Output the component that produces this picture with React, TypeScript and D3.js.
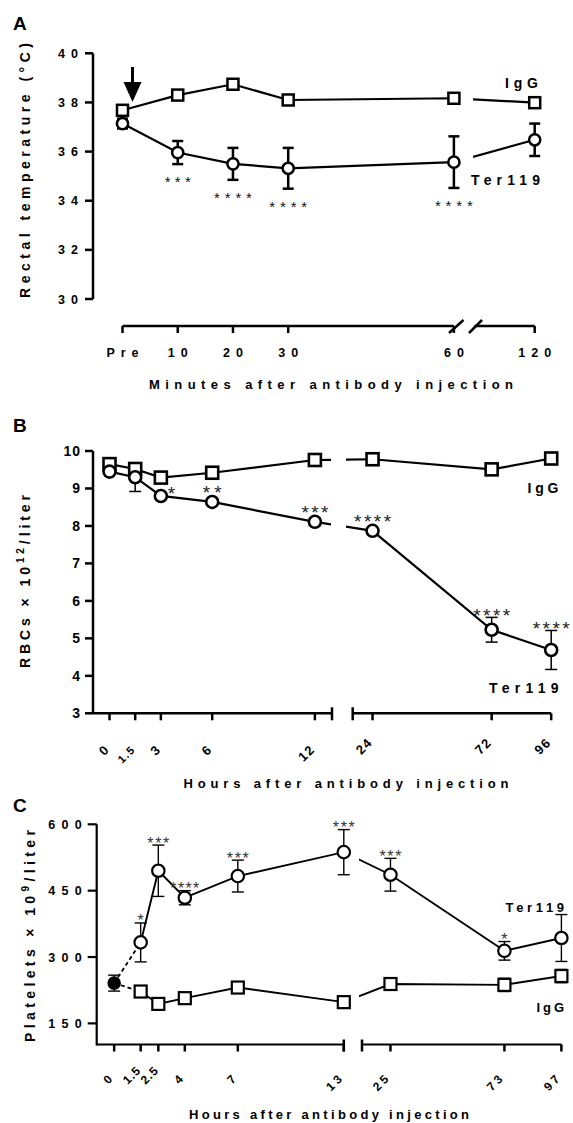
import { type RefObject, useEffect, useRef } from "react";
import * as d3 from "d3";

// ---- Panel A: rectal temperature ----
const aMinutes = [0, 10, 20, 30, 60, 120];
const aTickLabels = ["Pre", "10", "20", "30", "60", "120"];
const aIgG = [37.68, 38.3, 38.74, 38.1, 38.17, 37.99];
const aTer119 = [37.14, 35.96, 35.5, 35.32, 35.57, 36.48];
const aTer119Err = [0.2, 0.47, 0.65, 0.83, 1.05, 0.66];
const aStars = ["", "***", "****", "****", "****", ""];
const aYTicks = [30, 32, 34, 36, 38, 40];

// ---- Panel B: RBCs ----
const bHours = [0, 1.5, 3, 6, 12, 24, 72, 96];
const bTickLabels = ["0", "1.5", "3", "6", "12", "24", "72", "96"];
const bIgG = [9.65, 9.52, 9.29, 9.42, 9.76, 9.78, 9.51, 9.8];
const bIgGErr = [0.03, 0.1, 0.03, 0.03, 0.05, 0.03, 0.05, 0.03];
const bTer119 = [9.45, 9.3, 8.8, 8.64, 8.11, 7.87, 5.23, 4.69];
const bTer119Err = [0.05, 0.38, 0.05, 0.05, 0.1, 0.05, 0.33, 0.52];
const bStars = ["", "", "*", "**", "***", "****", "****", "****"];
const bYTicks = [3, 4, 5, 6, 7, 8, 9, 10];

// ---- Panel C: platelets ----
const cBaseline = 241;
const cBaselineErr = 18;
const cHours = [1.5, 2.5, 4, 7, 13, 25, 73, 97];
const cTickHours = [0, 1.5, 2.5, 4, 7, 13, 25, 73, 97];
const cTickLabels = ["0", "1.5", "2.5", "4", "7", "13", "25", "73", "97"];
const cTer119 = [333, 495, 434, 483, 537, 486, 314, 343];
const cTer119Err = [44, 58, 16, 36, 51, 37, 21, 53];
const cIgG = [222, 194, 207, 231, 198, 239, 237, 257];
const cIgGErr = [12, 5, 12, 5, 10, 5, 15, 15];
const cStars = ["*", "***", "****", "***", "***", "***", "*", ""];
const cYTicks = [150, 300, 450, 600];

const W = 573;
const H = 1123;
const FONT = "'Liberation Sans', Arial, Helvetica, sans-serif";

type G = d3.Selection<SVGGElement, unknown, null, undefined>;

const brokenScale = (
  d1: [number, number],
  r1: [number, number],
  d2: [number, number],
  r2: [number, number]
) => {
  const s1 = d3.scaleLinear().domain(d1).range(r1);
  const s2 = d3.scaleLinear().domain(d2).range(r2);
  return (v: number) => (v <= d1[1] ? s1(v) : s2(v));
};

const text = (
  g: G,
  str: string,
  x: number,
  y: number,
  size: number,
  opts: {
    anchor?: string;
    weight?: string;
    len?: number;
    spacing?: number;
    rotate?: number;
    fill?: string;
  } = {}
) => {
  const t = g
    .append("text")
    .attr("font-family", FONT)
    .attr("font-size", size)
    .attr("font-weight", opts.weight ?? "bold")
    .attr("fill", opts.fill ?? "#000")
    .attr("text-anchor", opts.anchor ?? "start")
    .text(str);
  if (opts.rotate !== undefined) {
    t.attr("transform", `translate(${x},${y}) rotate(${opts.rotate})`);
  } else {
    t.attr("x", x).attr("y", y);
  }
  if (opts.len) t.attr("textLength", opts.len).attr("lengthAdjust", "spacing");
  if (opts.spacing) t.attr("letter-spacing", opts.spacing);
  return t;
};

const seg = (g: G, x1: number, y1: number, x2: number, y2: number, w: number) =>
  g
    .append("line")
    .attr("x1", x1)
    .attr("y1", y1)
    .attr("x2", x2)
    .attr("y2", y2)
    .attr("stroke", "#000")
    .attr("stroke-width", w);

// polyline drawn twice, clipped on each side of the axis break
const series = (
  g: G,
  pts: [number, number][],
  gap: [number, number],
  id: string,
  w: number
) => {
  const d = d3.line()(pts);
  g.append("clipPath")
    .attr("id", id + "L")
    .append("rect")
    .attr("x", 0)
    .attr("y", 0)
    .attr("width", gap[0])
    .attr("height", H);
  g.append("clipPath")
    .attr("id", id + "R")
    .append("rect")
    .attr("x", gap[1])
    .attr("y", 0)
    .attr("width", W - gap[1])
    .attr("height", H);
  ["L", "R"].forEach((s) =>
    g
      .append("path")
      .attr("d", d)
      .attr("clip-path", `url(#${id}${s})`)
      .attr("fill", "none")
      .attr("stroke", "#000")
      .attr("stroke-width", w)
  );
};

const errBar = (g: G, x: number, y1: number, y2: number, cap: number, w: number) => {
  seg(g, x, y1, x, y2, w);
  seg(g, x - cap / 2, y1, x + cap / 2, y1, w);
  seg(g, x - cap / 2, y2, x + cap / 2, y2, w);
};

const square = (g: G, x: number, y: number, s: number, w: number) =>
  g
    .append("rect")
    .attr("x", x - s / 2)
    .attr("y", y - s / 2)
    .attr("width", s)
    .attr("height", s)
    .attr("fill", "#fff")
    .attr("stroke", "#000")
    .attr("stroke-width", w);

const circle = (g: G, x: number, y: number, r: number, w: number, fill = "#fff") =>
  g
    .append("circle")
    .attr("cx", x)
    .attr("cy", y)
    .attr("r", r)
    .attr("fill", fill)
    .attr("stroke", "#000")
    .attr("stroke-width", w);

const drawPanelA = (g: G) => {
  const y = d3.scaleLinear().domain([30, 40]).range([299, 53.3]);
  const x = brokenScale([0, 60], [122.5, 453.9], [110, 120], [474.5, 534.7]);
  const axisX = 93;

  text(g, "A", 13, 30, 19);

  // y axis
  seg(g, axisX, y(30), axisX, y(40), 2.5);
  aYTicks.forEach((t) => {
    seg(g, axisX - 8, y(t), axisX, y(t), 2.5);
    text(g, String(t), 84, y(t) + 4.5, 12.5, { anchor: "end", spacing: 6 });
  });
  text(g, "Rectal temperature (°C)", 30, 170.5, 14, {
    anchor: "middle",
    rotate: -90,
    len: 255,
  });

  // x axis (offset, broken between 60 and 120)
  const xa = 326;
  seg(g, x(0), xa, x(60), xa, 2.5);
  seg(g, 474.5, xa, x(120), xa, 2.5);
  seg(g, 449, 333, 463.5, 320, 2.5);
  seg(g, 469, 333, 482, 320, 2.5);
  aMinutes.forEach((m, i) => {
    seg(g, x(m), xa, x(m), xa + 7, 2.5);
    text(g, aTickLabels[i], x(m) + 3, 357, 12.5, { anchor: "middle", spacing: 6 });
  });
  text(g, "Minutes after antibody injection", 331, 389, 13, {
    anchor: "middle",
    len: 364,
  });

  // injection arrow
  seg(g, x(0) + 10, 67, x(0) + 10, 85, 3);
  g.append("path")
    .attr("d", `M${x(0) + 1},82 L${x(0) + 19},82 L${x(0) + 10},102 Z`)
    .attr("fill", "#000");

  const gap: [number, number] = [455, 473];
  series(g, aMinutes.map((m, i) => [x(m), y(aIgG[i])]), gap, "aIgG", 2.2);
  series(g, aMinutes.map((m, i) => [x(m), y(aTer119[i])]), gap, "aTer", 2.2);

  aMinutes.forEach((m, i) => {
    errBar(g, x(m), y(aTer119[i] + aTer119Err[i]), y(aTer119[i] - aTer119Err[i]), 11, 2.5);
  });
  aMinutes.forEach((m, i) => square(g, x(m), y(aIgG[i]), 11, 2.5));
  aMinutes.forEach((m, i) => circle(g, x(m), y(aTer119[i]), 5.6, 2.5));

  aStars.forEach((s, i) => {
    if (!s) return;
    const cy = y(aTer119[i] - aTer119Err[i]) + 14.5;
    text(g, s, x(aMinutes[i]), cy + 8.5, 15, {
      anchor: "middle",
      weight: "normal",
      len: s.length === 3 ? 26 : 38,
      fill: "#111",
    });
  });

  text(g, "IgG", 538, 88, 14, { anchor: "end", len: 33 });
  text(g, "Ter119", 471, 185, 14, { len: 69 });
};

const drawPanelB = (g: G) => {
  const y = d3.scaleLinear().domain([3, 10]).range([713.3, 451]);
  const x = brokenScale([-1, 13], [92.4, 332], [16, 96], [352.7, 551.2]);
  const axisX = 93;

  text(g, "B", 13, 432, 19);

  seg(g, axisX, y(3), axisX, y(10), 2.5);
  bYTicks.forEach((t) => {
    seg(g, axisX - 8, y(t), axisX, y(t), 2.5);
    text(g, String(t), 81, y(t) + 5, 14, { anchor: "end", spacing: 1 });
  });
  const yt = text(g, "", 30, 581.5, 14, { anchor: "middle", rotate: -90, len: 173 });
  yt.append("tspan").text("RBCs × 10");
  yt.append("tspan").attr("dy", -6).attr("font-size", 10).text("12");
  yt.append("tspan").attr("dy", 6).text("/liter");

  const xa = y(3);
  seg(g, axisX, xa, x(13), xa, 2.5);
  seg(g, x(16), xa, x(96), xa, 2.5);
  seg(g, x(13), xa - 6, x(13), xa + 7, 2.5);
  seg(g, x(16), xa - 6, x(16), xa + 7, 2.5);
  bHours.forEach((h, i) => {
    seg(g, x(h), xa, x(h), xa + 7, 2.5);
    text(g, bTickLabels[i], x(h) + 1, h < 13 ? 750 : 743, bTickLabels[i] === "1.5" ? 11 : 13, {
      anchor: "end",
      rotate: -45,
      spacing: 1.5,
    });
  });
  text(g, "Hours after antibody injection", 346, 788, 13, { anchor: "middle", len: 325 });

  const gap: [number, number] = [331, 346];
  series(g, bHours.map((h, i) => [x(h), y(bIgG[i])]), gap, "bIgG", 2.2);
  series(g, bHours.map((h, i) => [x(h), y(bTer119[i])]), gap, "bTer", 2.2);

  bHours.forEach((h, i) => {
    errBar(g, x(h), y(bIgG[i] + bIgGErr[i]), y(bIgG[i] - bIgGErr[i]), 12, 1.5);
    errBar(g, x(h), y(bTer119[i] + bTer119Err[i]), y(bTer119[i] - bTer119Err[i]), 12, 1.5);
  });
  bHours.forEach((h, i) => square(g, x(h), y(bIgG[i]), 12, 2.6));
  bHours.forEach((h, i) => circle(g, x(h), y(bTer119[i]), 6, 2.6));

  const starW: Record<number, number> = { 1: 7, 2: 19, 3: 27, 4: 37 };
  bStars.forEach((s, i) => {
    if (!s) return;
    const px = x(bHours[i]);
    const py = y(bTer119[i]);
    // the single star sits beside its marker, the rest above
    const cx = s.length === 1 ? px + 10.5 : px;
    const cy = s.length === 1 ? py - 6 : Math.min(py - 13, y(bTer119[i] + bTer119Err[i]) - 6);
    text(g, s, cx, cy + 10.5, 19, {
      anchor: "middle",
      weight: "normal",
      len: starW[s.length],
      fill: "#222",
    });
  });

  text(g, "IgG", 558.5, 493, 14, { anchor: "end", len: 31 });
  text(g, "Ter119", 489, 692.7, 14, { len: 69.5 });
};

const drawPanelC = (g: G) => {
  const y = d3.scaleLinear().domain([100, 600]).range([1045.5, 824.3]);
  const x = brokenScale([-1, 13], [96.5, 343.8], [13.01, 97], [362, 561.4]);
  const axisX = 96.7;

  text(g, "C", 13, 812, 19);

  seg(g, axisX, y(100), axisX, y(600), 2.2);
  cYTicks.forEach((t) => {
    seg(g, axisX - 9, y(t), axisX, y(t), 2.2);
    text(g, String(t), 88, y(t) + 4.5, 12.5, { anchor: "end", spacing: 6.3 });
  });
  const yt = text(g, "", 35, 936, 14, { anchor: "middle", rotate: -90, len: 212 });
  yt.append("tspan").text("Platelets × 10");
  yt.append("tspan").attr("dy", -6).attr("font-size", 10).text("9");
  yt.append("tspan").attr("dy", 6).text("/liter");

  const xa = 1044.5;
  seg(g, axisX, xa, x(13), xa, 2.2);
  seg(g, x(13.01), xa, x(97), xa, 2.2);
  seg(g, x(13), xa - 5, x(13), xa + 7, 2.5);
  seg(g, x(13.01), xa - 5, x(13.01), xa + 7, 2.5);
  cTickHours.forEach((h, i) => {
    seg(g, x(h), xa, x(h), xa + 7, 2.5);
    const small = cTickLabels[i].includes(".");
    text(g, cTickLabels[i], x(h) + 1, small ? 1071 : 1078, 12, {
      anchor: "end",
      rotate: -45,
      spacing: small ? 1 : 3,
    });
  });
  text(g, "Hours after antibody injection", 329, 1119, 13, { anchor: "middle", len: 280 });

  const base: [number, number] = [x(0), y(cBaseline)];
  const gap: [number, number] = [345, 359];
  const terPts = cHours.map((h, i) => [x(h), y(cTer119[i])] as [number, number]);
  const iggPts = cHours.map((h, i) => [x(h), y(cIgG[i])] as [number, number]);
  [terPts[0], iggPts[0]].forEach((p) =>
    g
      .append("path")
      .attr("d", d3.line()([base, p]))
      .attr("fill", "none")
      .attr("stroke", "#000")
      .attr("stroke-width", 1.8)
      .attr("stroke-dasharray", "4,3")
  );
  series(g, terPts, gap, "cTer", 1.9);
  series(g, iggPts, gap, "cIgG", 1.9);

  errBar(g, base[0], y(cBaseline + cBaselineErr), y(cBaseline - cBaselineErr), 12, 1.4);
  cHours.forEach((h, i) => {
    errBar(g, x(h), y(cTer119[i] + cTer119Err[i]), y(cTer119[i] - cTer119Err[i]), 12, 1.4);
    errBar(g, x(h), y(cIgG[i] + cIgGErr[i]), y(cIgG[i] - cIgGErr[i]), 12, 1.4);
  });
  circle(g, base[0], base[1], 6, 1.5, "#000");
  cHours.forEach((h, i) => square(g, x(h), y(cIgG[i]), 12, 2.2));
  cHours.forEach((h, i) => circle(g, x(h), y(cTer119[i]), 6.2, 2.2));

  const starW: Record<number, number> = { 1: 6, 3: 22, 4: 29 };
  cStars.forEach((s, i) => {
    if (!s) return;
    const cy = y(cTer119[i] + cTer119Err[i]) - 5.5;
    text(g, s, x(cHours[i]), cy + 9, 16, {
      anchor: "middle",
      weight: "normal",
      len: starW[s.length],
      fill: "#333",
    });
  });

  text(g, "Ter119", 505.5, 911.7, 13, { len: 58.5 });
  text(g, "IgG", 536.6, 1012, 13, { len: 27.4 });
};

const drawGraph = (svgRef: RefObject<SVGSVGElement>) => {
  const svg = d3.select(svgRef.current).attr("width", W).attr("height", H);
  const root = svg.append("g") as unknown as G;
  drawPanelA(root.append("g") as G);
  drawPanelB(root.append("g") as G);
  drawPanelC(root.append("g") as G);
};

const clearGraph = (svgRef: RefObject<SVGSVGElement>) => {
  d3.select(svgRef.current).selectAll("*").remove();
};

const App = () => {
  const svgRef = useRef<SVGSVGElement>(null);

  useEffect(() => {
    drawGraph(svgRef);
    return () => {
      clearGraph(svgRef);
    };
  }, [svgRef]);

  return (
    <svg
      ref={svgRef}
      style={{ position: "absolute", left: 0, top: 0, background: "#fff", display: "block" }}
    ></svg>
  );
};

export default App;
